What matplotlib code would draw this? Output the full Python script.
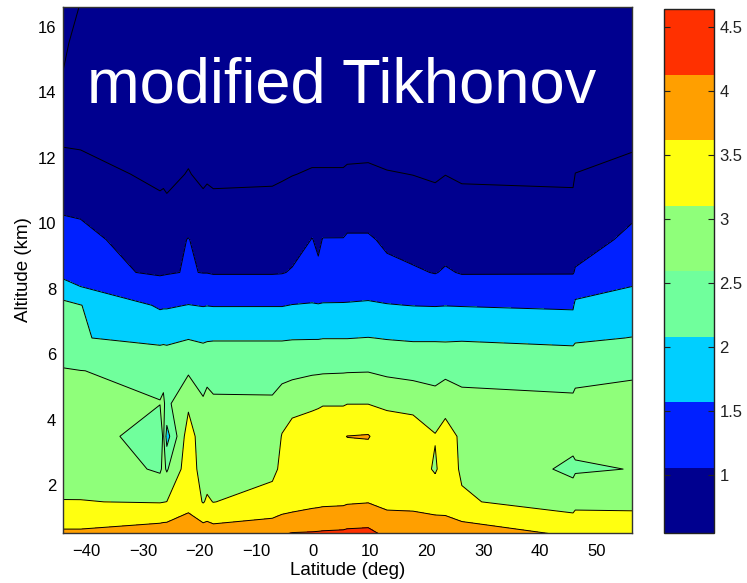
import numpy as np
import matplotlib
matplotlib.use("Agg")
import matplotlib.pyplot as plt
from matplotlib.colors import ListedColormap, Normalize
from matplotlib.cm import ScalarMappable

plt.rcParams["font.family"] = ["Liberation Sans", "DejaVu Sans"]

# retrieval grid: profile latitudes (deg) and altitude levels (km)
lats = [-44.1, -41.0, -27.0, -26.4, -25.8, -22.0, -19.4, -18.7, -17.6,
        -7.2, -5.5, -3.7, -0.2, 0.9, 1.7, 5.3, 6.0, 9.7, 13.0, 17.6,
        21.5, 23.3, 26.2, 45.8, 46.2, 56.2]
alts = [0.5, 1.5, 2.5, 3.5, 4.5, 5.5, 6.5, 7.5, 8.5, 9.5, 10.5, 11.5,
        12.5, 13.5, 14.5, 15.5, 16.6]

# one profile per latitude, bottom to top
profiles = [
    [4.1, 3.51, 3.37, 3.26, 3.14, 3.015, 2.85, 2.62, 1.85, 1.65, 1.45, 1.2, 0.957, 0.74, 0.505, 0.47, 0.45],
    [4.1, 3.51, 3.36, 3.24, 3.12, 3.005, 2.52, 2.51, 1.615, 1.6, 1.44, 1.17, 0.94, 0.8, 0.66, 0.56, 0.505],
    [4.28, 3.476, 2.93, 2.755, 3.01, 2.92, 2.38, 1.94, 1.45, 1.29, 1.096, 0.9, 0.87, 0.84, 0.8, 0.77, 0.74],
    [4.3, 3.49, 3.1, 3.08, 3.05, 2.9, 2.4, 1.95, 1.46, 1.28, 1.09, 0.93, 0.88, 0.85, 0.81, 0.78, 0.75],
    [4.3, 3.505, 2.95, 2.3, 2.9, 2.85, 2.4, 1.95, 1.47, 1.28, 1.07, 0.9, 0.88, 0.85, 0.82, 0.79, 0.76],
    [4.3, 3.85, 3.78, 3.78, 3.40, 2.94, 2.48, 2.01, 1.52, 1.52, 1.19, 1.02, 0.9, 0.87, 0.84, 0.81, 0.78],
    [4.3, 3.47, 3.29, 3.17, 3.05, 2.82, 2.44, 1.98, 1.49, 1.3, 1.1, 0.92, 0.88, 0.85, 0.82, 0.79, 0.76],
    [4.3, 3.56, 3.3, 3.2, 3.1, 2.9, 2.45, 1.99, 1.49, 1.33, 1.14, 0.94, 0.89, 0.86, 0.83, 0.8, 0.77],
    [4.25, 3.49, 3.3, 3.2, 3.04, 2.9, 2.46, 1.98, 1.47, 1.3, 1.1, 0.92, 0.88, 0.85, 0.82, 0.79, 0.76],
    [4.3, 3.7, 3.38, 3.24, 3.07, 2.8, 2.47, 1.98, 1.47, 1.3, 1.12, 0.93, 0.88, 0.85, 0.82, 0.79, 0.76],
    [4.49, 3.7, 3.6, 3.52, 3.3, 2.8, 2.47, 1.98, 1.48, 1.32, 1.14, 0.96, 0.9, 0.86, 0.83, 0.8, 0.77],
    [4.55, 3.75, 3.68, 3.6, 3.42, 2.84, 2.48, 2.01, 1.53, 1.35, 1.17, 0.99, 0.92, 0.88, 0.85, 0.82, 0.79],
    [4.56, 3.86, 3.8, 3.7, 3.44, 2.93, 2.48, 2.02, 1.75, 1.51, 1.33, 1.03, 0.88, 0.85, 0.83, 0.8, 0.78],
    [4.57, 3.88, 3.82, 3.72, 3.46, 2.94, 2.48, 2.02, 1.55, 1.45, 1.3, 1.03, 0.88, 0.85, 0.83, 0.8, 0.78],
    [4.58, 3.9, 3.84, 3.74, 3.48, 2.95, 2.49, 2.02, 1.75, 1.51, 1.33, 1.03, 0.88, 0.85, 0.83, 0.8, 0.78],
    [4.6, 3.92, 3.85, 3.98, 3.46, 2.965, 2.49, 2.02, 1.78, 1.51, 1.34, 1.03, 0.88, 0.85, 0.83, 0.8, 0.78],
    [4.62, 3.95, 3.85, 4.005, 3.49, 2.97, 2.49, 2.02, 1.8, 1.55, 1.3, 1.06, 0.86, 0.84, 0.82, 0.8, 0.78],
    [4.64, 3.98, 3.7, 4.03, 3.49, 2.98, 2.51, 2.03, 1.82, 1.55, 1.3, 1.07, 0.87, 0.84, 0.82, 0.8, 0.78],
    [4.42, 3.86, 3.8, 3.72, 3.44, 2.9, 2.48, 2.02, 1.6, 1.43, 1.25, 1.02, 0.86, 0.84, 0.82, 0.8, 0.78],
    [4.38, 3.85, 3.75, 3.65, 3.42, 2.82, 2.46, 1.99, 1.56, 1.3, 1.15, 0.995, 0.86, 0.84, 0.82, 0.8, 0.78],
    [4.3, 3.8, 3.45, 3.52, 3.3, 2.74, 2.47, 1.98, 1.48, 1.3, 1.14, 0.95, 0.86, 0.84, 0.82, 0.8, 0.78],
    [4.28, 3.8, 3.7, 3.62, 3.4, 2.86, 2.45, 1.99, 1.55, 1.3, 1.15, 0.995, 0.86, 0.84, 0.82, 0.8, 0.78],
    [4.3, 3.55, 3.45, 3.45, 3.3, 2.7, 2.478, 1.98, 1.47, 1.28, 1.12, 0.95, 0.86, 0.84, 0.82, 0.8, 0.78],
    [3.95, 3.27, 2.9, 3.15, 3.08, 2.83, 2.396, 1.935, 1.477, 1.3, 1.1, 0.93, 0.86, 0.84, 0.82, 0.8, 0.78],
    [3.65, 3.45, 2.93, 3.18, 3.1, 2.887, 2.43, 2.1, 1.53, 1.35, 1.2, 1.004, 0.88, 0.85, 0.83, 0.81, 0.79],
    [3.58, 3.47, 3.013, 3.2, 3.1, 2.96, 2.51, 2.2, 1.85, 1.57, 1.43, 1.2, 0.9, 0.87, 0.85, 0.83, 0.81],
]

levels = [0.0, 0.5, 1.0, 1.5, 2.0, 2.5, 3.0, 3.5, 4.0, 4.5, 5.0]
line_levels = [0.5, 1.0, 1.5, 2.0, 2.5, 3.0, 3.5, 4.0, 4.5]

# jet-like palette, one entry per colour bar band
band_colors = ["#00008f", "#0020ff", "#00cfff", "#70ff9c",
               "#8fff7a", "#ffff10", "#ff9f00", "#ff3000"]
fill_colors = [band_colors[0], band_colors[0]] + band_colors
cbar_min, cbar_max = 0.55, 4.64
cbar_ticks = [1, 1.5, 2, 2.5, 3, 3.5, 4, 4.5]

Z = np.array(profiles).T

fig = plt.figure(figsize=(7.47, 5.83), dpi=100)
ax = fig.add_axes([63 / 747, 50 / 583, 569 / 747, 526 / 583])

ax.contourf(lats, alts, Z, levels=levels, colors=fill_colors)
ax.contour(lats, alts, Z, levels=line_levels, colors="k", linewidths=0.7)

ax.set_xlim(-44.1, 56.2)
ax.set_ylim(0.55, 16.6)
ax.set_xticks(np.arange(-40, 51, 10))
ax.set_yticks(np.arange(2, 17, 2))
ax.set_xticklabels(["\u221240", "\u221230", "\u221220", "\u221210", "0", "10", "20", "30", "40", "50"])
ax.tick_params(length=0, labelsize=12, pad=8)
ax.tick_params(axis="y", pad=5)
for s in ax.spines.values():
    s.set_color("#333333")
    s.set_linewidth(1.0)
ax.set_xlabel("Latitude (deg)", fontsize=13.5, labelpad=2)
ax.set_ylabel("Altitude (km)", fontsize=13.5, labelpad=4)

ax.text(0.042, 0.8175, "modified Tikhonov", transform=ax.transAxes,
        color="white", fontsize=45.5, va="baseline", ha="left")

# colour bar with 8 equal bands
cax = fig.add_axes([664 / 747, 50 / 583, 50 / 747, 524 / 583])
sm = ScalarMappable(norm=Normalize(cbar_min, cbar_max), cmap=ListedColormap(band_colors))
cb = fig.colorbar(sm, cax=cax, ticks=cbar_ticks)
cb.ax.set_yticklabels([f"{t:g}" for t in cbar_ticks])
cb.outline.set_linewidth(1.0)
cb.outline.set_edgecolor("#222222")
cax.tick_params(direction="in", length=4, width=0.8, left=True, right=True,
                labelsize=12, pad=4, colors="#222222")

fig.savefig("out.png", dpi=100)
